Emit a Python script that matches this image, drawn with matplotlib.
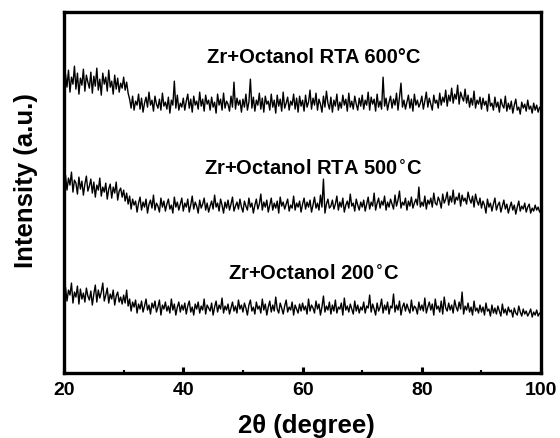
#!/usr/bin/env python3
import numpy as np
import matplotlib
matplotlib.use('Agg')
import matplotlib.pyplot as plt
from matplotlib.ticker import MultipleLocator

plt.rcParams['font.family'] = ['Liberation Sans', 'DejaVu Sans']
plt.rcParams['font.weight'] = 'bold'

# 2-theta grid, 0.25 degree steps from 20 to 100
two_theta = np.arange(20.0, 100.001, 0.25)

# stacked intensities (a.u.), 10 points per line = 2.5 degrees
rta600 = [
    283, 299, 286, 303, 281, 296, 289, 307, 284, 300,
    279, 295, 288, 304, 282, 298, 291, 285, 301, 280,
    297, 287, 305, 283, 294, 278, 300, 289, 296, 282,
    303, 286, 292, 279, 298, 284, 295, 281, 290, 285,
    296, 283, 291, 280, 274, 265, 277, 263, 272, 268,
    279, 264, 275, 261, 270, 276, 266, 281, 268, 273,
    262, 277, 269, 265, 274, 263, 280, 267, 271, 264,
    276, 260, 273, 268, 292, 265, 278, 263, 270, 266,
    275, 263, 272, 279, 265, 274, 261, 277, 268, 272,
    264, 281, 267, 274, 262, 278, 269, 273, 263, 276,
    266, 271, 260, 279, 268, 274, 263, 280, 265, 272,
    269, 262, 277, 266, 291, 264, 275, 268, 273, 261,
    274, 266, 279, 263, 271, 294, 265, 276, 262, 273,
    268, 280, 264, 275, 261, 277, 269, 272, 263, 279,
    266, 273, 260, 278, 267, 274, 262, 281, 265, 270,
    276, 263, 272, 268, 279, 264, 275, 261, 277, 267,
    273, 262, 278, 266, 271, 283, 264, 275, 268, 280,
    263, 274, 269, 261, 277, 266, 282, 270, 264, 276,
    261, 273, 267, 279, 263, 271, 265, 278, 268, 274,
    262, 280, 266, 272, 264, 277, 269, 263, 275, 267,
    278, 264, 273, 268, 281, 263, 276, 269, 274, 262,
    279, 266, 272, 264, 296, 267, 275, 263, 271, 277,
    265, 274, 268, 280, 263, 276, 290, 266, 273, 264,
    271, 278, 265, 274, 262, 279, 268, 273, 266, 270,
    277, 264, 272, 281, 266, 275, 269, 263, 278, 270,
    273, 265, 280, 268, 276, 271, 283, 267, 278, 272,
    285, 270, 279, 274, 288, 269, 281, 276, 272, 284,
    270, 278, 266, 275, 268, 282, 265, 273, 269, 276,
    264, 275, 268, 272, 262, 279, 267, 270, 263, 276,
    266, 271, 261, 274, 268, 265, 277, 262, 270, 264,
    272, 260, 268, 274, 263, 266, 259, 271, 265, 269,
    262, 273, 264, 267, 260, 270, 263, 268, 261, 266,
    264,
]
rta500 = [
    186, 198, 183, 195, 188, 201, 181, 193, 190, 179,
    196, 184, 192, 178, 189, 197, 182, 187, 194, 180,
    191, 176, 188, 183, 195, 177, 186, 181, 190, 174,
    184, 189, 175, 186, 180, 191, 173, 182, 185, 176,
    183, 172, 180, 169, 177, 164, 174, 168, 172, 161,
    170, 176, 163, 171, 166, 174, 160, 169, 173, 165,
    178, 163, 170, 167, 161, 175, 166, 172, 162, 169,
    174, 164, 168, 160, 176, 166, 171, 163, 169, 175,
    162, 170, 166, 174, 161, 168, 177, 164, 171, 167,
    160, 173, 165, 169, 175, 163, 170, 161, 167, 172,
    164, 178, 166, 170, 162, 174, 168, 160, 171, 165,
    173, 163, 169, 176, 162, 167, 171, 164, 174, 166,
    161, 172, 167, 163, 175, 166, 170, 160, 168, 174,
    164, 169, 179, 163, 171, 166, 173, 161, 168, 175,
    163, 170, 165, 172, 160, 176, 167, 171, 164, 169,
    174, 162, 168, 165, 177, 163, 170, 166, 172, 161,
    169, 175, 164, 171, 166, 173, 161, 168, 176, 165,
    170, 163, 178, 166, 194, 160, 169, 174, 165, 167,
    173, 164, 169, 177, 163, 171, 166, 175, 161, 168,
    172, 165, 179, 167, 170, 162, 174, 168, 163, 171,
    166, 173, 162, 169, 176, 164, 171, 167, 180, 163,
    170, 175, 165, 172, 168, 177, 163, 171, 166, 174,
    169, 164, 178, 167, 173, 182, 165, 171, 168, 175,
    163, 172, 167, 176, 165, 170, 174, 168, 186, 166,
    171, 167, 177, 164, 173, 169, 175, 166, 180, 170,
    168, 176, 172, 165, 179, 170, 174, 181, 168, 177,
    171, 183, 169, 176, 173, 180, 167, 178, 172, 175,
    169, 181, 174, 170, 177, 166, 179, 172, 168, 175,
    165, 172, 168, 160, 174, 166, 170, 162, 169, 175,
    163, 168, 171, 161, 167, 173, 164, 169, 160, 166,
    171, 163, 168, 159, 166, 172, 162, 167, 164, 170,
    161, 166, 169, 160, 165, 162, 168, 163, 166, 161,
    164,
]
ann200 = [
    75, 86, 72, 83, 78, 90, 70, 81, 76, 87,
    69, 84, 74, 80, 71, 85, 77, 73, 82, 68,
    79, 88, 71, 83, 75, 81, 90, 72, 78, 85,
    70, 79, 74, 83, 68, 77, 81, 71, 76, 69,
    78, 70, 83, 67, 74, 62, 71, 66, 73, 60,
    69, 64, 72, 61, 67, 74, 63, 68, 59, 70,
    65, 72, 61, 66, 73, 58, 68, 64, 71, 62,
    67, 60, 74, 63, 69, 58, 66, 71, 61, 68,
    63, 70, 59, 67, 72, 61, 66, 58, 69, 64,
    71, 60, 67, 63, 74, 59, 68, 65, 62, 70,
    58, 66, 72, 61, 68, 64, 75, 60, 67, 63,
    69, 59, 65, 71, 62, 67, 60, 73, 64, 68,
    61, 70, 65, 58, 68, 73, 62, 66, 59, 71,
    64, 67, 60, 74, 63, 69, 58, 66, 72, 61,
    68, 62, 76, 64, 60, 70, 65, 59, 67, 73,
    61, 66, 63, 71, 58, 68, 64, 60, 69, 62,
    70, 63, 67, 59, 74, 62, 68, 65, 60, 72,
    64, 69, 58, 66, 77, 61, 67, 63, 71, 59,
    68, 62, 73, 60, 66, 64, 70, 58, 75, 63,
    67, 61, 69, 64, 59, 72, 62, 68, 60, 66,
    63, 71, 60, 67, 65, 78, 61, 69, 64, 58,
    70, 62, 66, 74, 60, 68, 63, 71, 59, 67,
    65, 79, 61, 68, 63, 72, 58, 66, 70, 62,
    69, 64, 60, 73, 62, 67, 65, 59, 71, 63,
    68, 62, 75, 60, 66, 71, 63, 69, 58, 74,
    64, 67, 61, 72, 59, 76, 65, 62, 70, 63,
    68, 60, 73, 66, 62, 71, 64, 81, 59, 67,
    63, 70, 61, 66, 58, 72, 62, 65, 60, 68,
    61, 66, 58, 70, 62, 64, 57, 68, 60, 65,
    59, 67, 62, 57, 69, 60, 64, 58, 66, 61,
    63, 56, 65, 60, 58, 67, 61, 57, 64, 59,
    62, 57, 60, 64, 56, 61, 58, 63, 57, 60,
    59,
]

labels = ['Zr+Octanol RTA 600°C', r'Zr+Octanol RTA 500$^{\circ}$C', r'Zr+Octanol 200$^{\circ}$C']
label_y = [317, 206, 101]

fig = plt.figure(figsize=(5.6, 4.39), dpi=100)
ax = fig.add_axes([0.1143, 0.148, 0.852, 0.822])

for y in (rta600, rta500, ann200):
    ax.plot(two_theta, y, color='black', lw=1.0)

for txt, ty in zip(labels, label_y):
    ax.text(61.8, ty, txt, ha='center', va='center', fontsize=14.5, fontweight='bold')

ax.set_xlim(20, 100)
ax.set_ylim(0, 361)
ax.xaxis.set_major_locator(MultipleLocator(20))
ax.xaxis.set_minor_locator(MultipleLocator(10))
ax.tick_params(axis='x', which='major', direction='in', length=4, width=2.2,
               labelsize=14, pad=6, top=False)
ax.tick_params(axis='x', which='minor', direction='in', length=2, width=1.5, top=False)
ax.set_yticks([])
for sp in ax.spines.values():
    sp.set_linewidth(2.4)

ax.set_xlabel('2θ (degree)', fontsize=18.5, fontweight='bold', va='center')
ax.xaxis.set_label_coords(0.508, -0.143)
ax.set_ylabel('Intensity (a.u.)', fontsize=18.5, fontweight='bold', va='center')
ax.yaxis.set_label_coords(-0.08, 0.535)

fig.savefig('out.png', dpi=100)
